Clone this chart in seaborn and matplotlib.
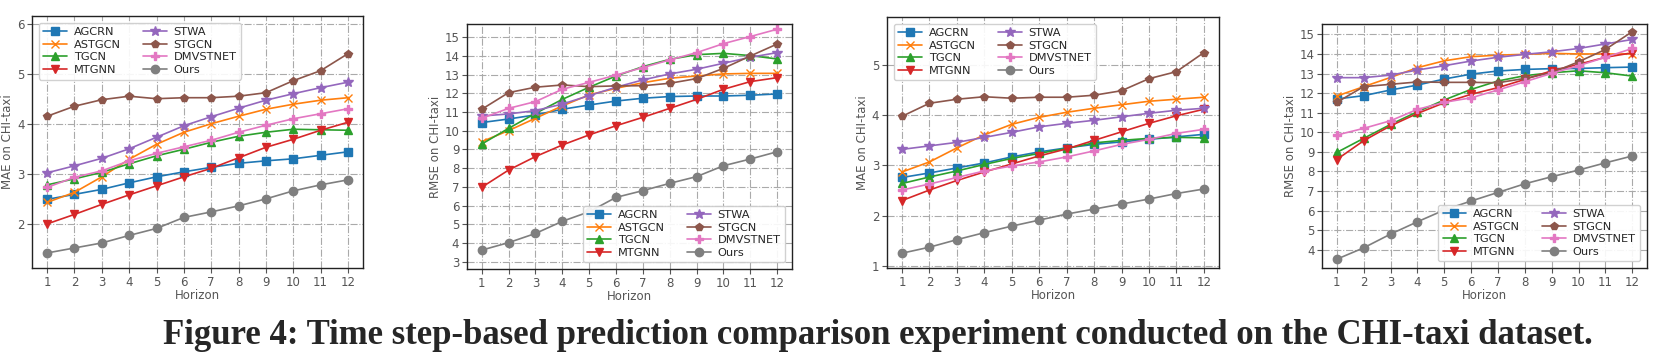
import numpy as np
import pandas as pd
import seaborn as sns
import matplotlib.pyplot as plt

horizon = list(range(1, 13))
models = ["AGCRN", "ASTGCN", "TGCN", "MTGNN", "STWA", "STGCN", "DMVSTNET", "Ours"]

# panel 1: MAE
mae_a = {
    "AGCRN":    [2.49, 2.59, 2.69, 2.82, 2.94, 3.04, 3.13, 3.21, 3.26, 3.30, 3.37, 3.44],
    "ASTGCN":   [2.43, 2.63, 2.94, 3.29, 3.59, 3.83, 4.00, 4.15, 4.29, 4.39, 4.47, 4.52],
    "TGCN":     [2.78, 2.90, 3.03, 3.20, 3.36, 3.49, 3.63, 3.75, 3.83, 3.89, 3.88, 3.87],
    "MTGNN":    [2.00, 2.19, 2.39, 2.58, 2.76, 2.94, 3.11, 3.32, 3.53, 3.69, 3.87, 4.03],
    "STWA":     [3.02, 3.16, 3.31, 3.50, 3.73, 3.96, 4.14, 4.31, 4.47, 4.60, 4.72, 4.83],
    "STGCN":    [4.15, 4.35, 4.48, 4.55, 4.50, 4.52, 4.52, 4.55, 4.62, 4.86, 5.06, 5.40],
    "DMVSTNET": [2.73, 2.93, 3.06, 3.26, 3.41, 3.54, 3.67, 3.83, 3.97, 4.10, 4.20, 4.30],
    "Ours":     [1.42, 1.52, 1.62, 1.77, 1.91, 2.13, 2.24, 2.36, 2.50, 2.66, 2.78, 2.88],
}
# panel 2: RMSE
rmse_a = {
    "AGCRN":    [10.44, 10.63, 10.85, 11.15, 11.38, 11.59, 11.74, 11.83, 11.86, 11.86, 11.90, 11.97],
    "ASTGCN":   [9.42, 10.01, 10.67, 11.33, 11.92, 12.27, 12.57, 12.81, 12.93, 13.04, 13.07, 13.07],
    "TGCN":     [9.29, 10.13, 10.93, 11.68, 12.33, 12.93, 13.43, 13.82, 14.07, 14.14, 14.02, 13.84],
    "MTGNN":    [6.98, 7.90, 8.62, 9.24, 9.78, 10.27, 10.72, 11.20, 11.68, 12.22, 12.63, 12.84],
    "STWA":     [10.79, 10.90, 11.08, 11.43, 11.88, 12.33, 12.72, 13.04, 13.29, 13.61, 13.93, 14.18],
    "STGCN":    [11.15, 12.04, 12.33, 12.45, 12.36, 12.40, 12.41, 12.54, 12.79, 13.34, 14.00, 14.64],
    "DMVSTNET": [10.67, 11.20, 11.56, 12.22, 12.59, 12.98, 13.38, 13.79, 14.18, 14.66, 15.04, 15.43],
    "Ours":     [3.62, 4.02, 4.51, 5.16, 5.67, 6.44, 6.80, 7.19, 7.55, 8.13, 8.49, 8.88],
}
# panel 3: MAE
mae_b = {
    "AGCRN":    [2.76, 2.85, 2.95, 3.05, 3.17, 3.27, 3.35, 3.42, 3.47, 3.52, 3.57, 3.62],
    "ASTGCN":   [2.87, 3.07, 3.35, 3.61, 3.82, 3.96, 4.06, 4.14, 4.21, 4.28, 4.32, 4.36],
    "TGCN":     [2.64, 2.77, 2.89, 3.02, 3.14, 3.24, 3.34, 3.45, 3.50, 3.54, 3.56, 3.55],
    "MTGNN":    [2.30, 2.51, 2.70, 2.87, 3.03, 3.19, 3.33, 3.50, 3.67, 3.84, 3.99, 4.12],
    "STWA":     [3.32, 3.39, 3.46, 3.56, 3.66, 3.77, 3.84, 3.90, 3.97, 4.04, 4.10, 4.14],
    "STGCN":    [3.98, 4.24, 4.32, 4.37, 4.34, 4.36, 4.36, 4.40, 4.49, 4.73, 4.87, 5.25],
    "DMVSTNET": [2.51, 2.63, 2.76, 2.89, 2.99, 3.07, 3.17, 3.29, 3.42, 3.52, 3.64, 3.72],
    "Ours":     [1.25, 1.37, 1.52, 1.66, 1.79, 1.91, 2.03, 2.13, 2.23, 2.33, 2.44, 2.53],
}
# panel 4: RMSE
rmse_b = {
    "AGCRN":    [11.70, 11.87, 12.16, 12.41, 12.72, 12.97, 13.13, 13.21, 13.25, 13.26, 13.30, 13.33],
    "ASTGCN":   [11.85, 12.33, 12.80, 13.30, 13.65, 13.86, 13.94, 13.98, 14.03, 14.00, 14.00, 14.00],
    "TGCN":     [8.97, 9.69, 10.40, 11.05, 11.65, 12.19, 12.62, 12.89, 13.04, 13.14, 13.04, 12.87],
    "MTGNN":    [8.61, 9.57, 10.33, 10.96, 11.51, 11.94, 12.28, 12.70, 13.14, 13.47, 13.83, 14.06],
    "STWA":     [12.79, 12.79, 12.92, 13.18, 13.40, 13.64, 13.83, 13.98, 14.11, 14.28, 14.51, 14.74],
    "STGCN":    [11.53, 12.33, 12.45, 12.57, 12.55, 12.55, 12.53, 12.75, 13.04, 13.60, 14.23, 15.14],
    "DMVSTNET": [9.86, 10.20, 10.59, 11.17, 11.53, 11.76, 12.16, 12.58, 13.01, 13.40, 13.83, 14.28],
    "Ours":     [3.52, 4.10, 4.80, 5.43, 6.03, 6.49, 6.93, 7.37, 7.73, 8.07, 8.44, 8.79],
}

markers = {"AGCRN": "s", "ASTGCN": "x", "TGCN": "^", "MTGNN": "v",
           "STWA": "*", "STGCN": "p", "DMVSTNET": "P", "Ours": "o"}
colors = dict(zip(models, sns.color_palette("tab10", 8)))

sns.set_style("ticks")
plt.rcParams['font.family'] = ['DejaVu Sans']

fig = plt.figure(figsize=(16.6, 3.57), dpi=100)
boxes = [
    [0.0193, 0.2493, 0.1994, 0.7057],
    [0.2813, 0.2465, 0.1958, 0.6863],
    [0.5343, 0.2493, 0.2000, 0.7031],
    [0.7964, 0.2493, 0.1958, 0.6835],
]
panels = [
    (mae_a, "MAE on CHI-taxi", (1.12, 6.15), [2, 3, 4, 5, 6], "upper left"),
    (rmse_a, "RMSE on CHI-taxi", (2.61, 15.71), list(range(3, 16)), "lower right"),
    (mae_b, "MAE on CHI-taxi", (0.955, 5.96), [1, 2, 3, 4, 5], "upper left"),
    (rmse_b, "RMSE on CHI-taxi", (3.07, 15.53), list(range(4, 16)), "lower right"),
]

gray = "#555555"
for box, (data, ylab, ylim, yticks, loc) in zip(boxes, panels):
    ax = fig.add_axes(box)
    for m in models:
        df = pd.DataFrame({"Horizon": horizon, "val": data[m]})
        sns.lineplot(data=df, x="Horizon", y="val", ax=ax, color=colors[m],
                     marker=markers[m], markersize=6 if m != "STWA" else 7,
                     linewidth=1.2, label=m,
                     markeredgecolor=colors[m] if m != "ASTGCN" else None,
                     markeredgewidth=1.0)
    ax.set_xlim(0.45, 12.55)
    ax.set_ylim(*ylim)
    ax.set_xticks(horizon)
    ax.set_yticks(yticks)
    ax.grid(True, linestyle="-.", color="#aaaaaa", linewidth=0.8)
    ax.set_axisbelow(True)
    ax.tick_params(labelsize=8.5, colors=gray, length=3.5, pad=2)
    ax.set_xlabel("Horizon", fontsize=8.5, color=gray, labelpad=0)
    ax.set_ylabel(ylab, fontsize=8.5, color=gray, labelpad=2)
    for s in ax.spines.values():
        s.set_color("#222222")
        s.set_linewidth(1.0)
    ax.legend(loc=loc, ncol=2, fontsize=8.2, framealpha=0.9,
              handlelength=2.1, handletextpad=0.6, columnspacing=1.9,
              labelspacing=0.22, borderpad=0.4, borderaxespad=0.6)

fig.text(0.529, 0.06, "Figure 4: Time step-based prediction comparison experiment conducted on the CHI-taxi dataset.",
         ha="center", va="center", fontsize=25, fontweight="bold",
         family=["Liberation Serif", "DejaVu Serif"])

fig.savefig("out.png", dpi=100)
